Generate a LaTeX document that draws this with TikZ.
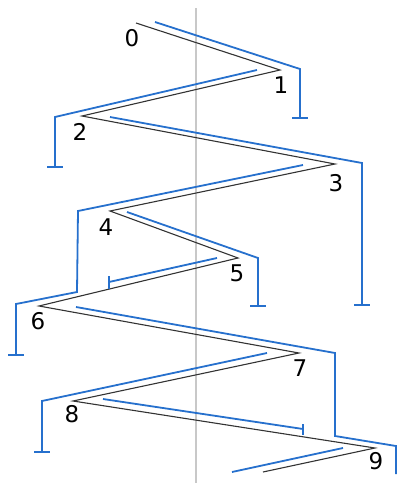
\documentclass[tikz,border=0pt]{standalone}
\usepackage{fontspec}
\setmainfont{DejaVu Sans}
\definecolor{pathblue}{RGB}{38,112,205}
\definecolor{axisgray}{RGB}{200,200,200}
\tikzset{
  route/.style={draw=black!80, line width=1.1pt, line join=miter},
  offset/.style={draw=pathblue, line width=1.8pt, line join=miter},
  stopbar/.style={draw=pathblue, line width=1.8pt},
  axis/.style={draw=axisgray, line width=1.3pt},
  num/.style={font=\fontsize{23}{23}\selectfont, inner sep=0pt}
}
\begin{document}
\begin{tikzpicture}[x=1pt, y=-1pt]
\useasboundingbox (0,0) rectangle (397,483);

% vertical reference axis
\draw[axis] (196,8) -- (196,483);

% zig-zag route
\coordinate (v0) at (136,23);
\coordinate (v1) at (280,70);
\coordinate (v2) at (82,116);
\coordinate (v3) at (335,164);
\coordinate (v4) at (110,211);
\coordinate (v5) at (238,258);
\coordinate (v6) at (39,306);
\coordinate (v7) at (299,353);
\coordinate (v8) at (73,401);
\coordinate (v9) at (375,448);
\coordinate (vend) at (263,472);
\draw[route] (v0) -- (v1) -- (v2) -- (v3) -- (v4) -- (v5) -- (v6) -- (v7) -- (v8) -- (v9) -- (vend);

% vertex numbers
\node[num] (n0) at (132,38) {0};
\node[num] (n1) at (281,85) {1};
\node[num] (n2) at (80,132) {2};
\node[num] (n3) at (336,183) {3};
\node[num] (n4) at (106,227) {4};
\node[num] (n5) at (237,273) {5};
\node[num] (n6) at (38,321) {6};
\node[num] (n7) at (300,368) {7};
\node[num] (n8) at (72,414) {8};
\node[num] (n9) at (376,461) {9};

% offset segments with their stops
\draw[offset] (155,22) -- (300,69) -- (300,118);
\draw[stopbar] (292,118) -- (308,118);

\draw[offset] (257,70) -- (55,117) -- (55,167);
\draw[stopbar] (47,167) -- (63,167);

\draw[offset] (110,117) -- (362,163) -- (362,305);
\draw[stopbar] (354,305) -- (370,305);

\draw[offset] (303,165) -- (78,211) -- (77,292) -- (16,304) -- (16,355);
\draw[stopbar] (8,355) -- (24,355);

\draw[offset] (127,212) -- (258,258) -- (258,306);
\draw[stopbar] (250,306) -- (266,306);

\draw[offset] (217,258) -- (109,282);
\draw[stopbar] (109,276) -- (109,289);

\draw[offset] (76,307) -- (335,353) -- (335,436) -- (396,446) -- (396,474);

\draw[offset] (267,353) -- (42,401) -- (42,452);
\draw[stopbar] (34,452) -- (50,452);

\draw[offset] (103,399) -- (303,429);
\draw[stopbar] (303,424) -- (303,435);

\draw[offset] (343,448) -- (232,472);
\end{tikzpicture}
\end{document}
